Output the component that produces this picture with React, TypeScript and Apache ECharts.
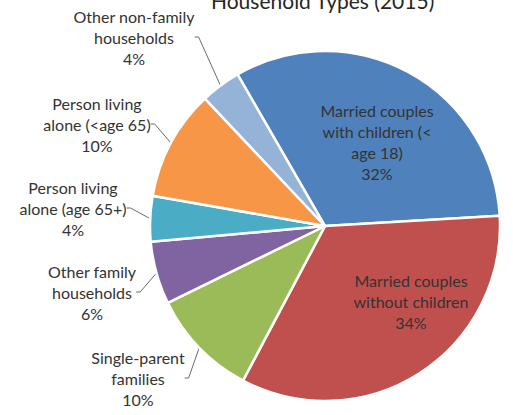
import React, { useEffect, useRef } from "react";
import * as echarts from "echarts";

const categories = [
  "Married couples\nwith children (<\nage 18)",
  "Married couples\nwithout children",
  "Single-parent\nfamilies",
  "Other family\nhouseholds",
  "Person living\nalone (age 65+)",
  "Person living\nalone (<age 65)",
  "Other non-family\nhouseholds",
];
const values = [32.4, 33.7, 10.0, 5.8, 4.2, 10.2, 3.7];
const colors = ["#4F81BD", "#C0504D", "#9BBB59", "#8064A2", "#4BACC6", "#F79646", "#95B3D7"];
const insideLabel = [true, true, false, false, false, false, false];
// label block centres (layout only)
const labelPos = [
  [377, 142],
  [411, 301],
  [138, 378],
  [92, 292],
  [73, 208],
  [97, 124],
  [134, 37],
];
const titleText = "Household Types (2015)";

export default function App() {
  const ref = useRef<HTMLDivElement>(null);
  useEffect(() => {
    document.body.style.margin = "0";
    const chart = echarts.init(ref.current!, null, { renderer: "svg" });
    const font = "Lato, 'Open Sans', sans-serif";
    chart.setOption({
      animation: false,
      backgroundColor: "#ffffff",
      title: {
        text: titleText,
        left: 206,
        top: -15,
        textStyle: { fontFamily: font, fontSize: 21, fontWeight: "normal", color: "#262626" },
      },
      series: [
        {
          type: "pie",
          center: [325, 226],
          radius: [0, 175],
          startAngle: 120,
          clockwise: true,
          avoidLabelOverlap: false,
          itemStyle: { borderColor: "#ffffff", borderWidth: 2.5 },
          label: {
            show: true,
            fontFamily: font,
            fontSize: 16,
            lineHeight: 21,
            color: "#333333",
            align: "center",
            formatter: (p: any) => `${p.name}\n${Math.round(p.value)}%`,
          },
          labelLine: { show: true, length: 8, length2: 4, lineStyle: { color: "#6b6b6b", width: 1 } },
          labelLayout: (p: any) => {
            const pos = labelPos[p.dataIndex];
            return { x: pos[0], y: pos[1], align: "center", verticalAlign: "middle" };
          },
          data: categories.map((name, i) => ({
            name,
            value: values[i],
            itemStyle: { color: colors[i] },
            label: { position: insideLabel[i] ? "inside" : "outside" },
            labelLine: { show: !insideLabel[i] },
          })),
        },
      ],
    });
    return () => chart.dispose();
  }, []);
  return <div ref={ref} style={{ width: 513, height: 415 }} />;
}
